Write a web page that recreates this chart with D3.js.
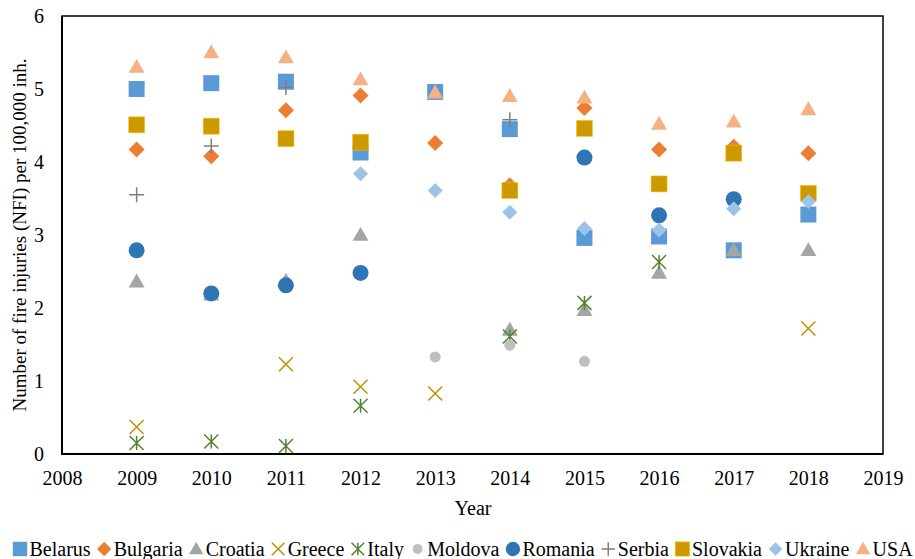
<!DOCTYPE html>
<html>
<head>
<meta charset="utf-8">
<script src="https://cdn.jsdelivr.net/npm/d3@7"></script>
<style>
  body { margin: 0; background: #fff; }
  text { font-family: "Liberation Serif", "Times New Roman", serif; fill: #000; }
</style>
</head>
<body>
<svg id="chart" width="915" height="559"></svg>
<script>
// values (NFI per 100,000 inh.), null = no point
const years    = [2009, 2010, 2011, 2012, 2013, 2014, 2015, 2016, 2017, 2018];
const belarus  = [5.00, 5.08, 5.10, 4.13, 4.96, 4.45, 2.96, 2.98, 2.79, 3.28];
const bulgaria = [4.17, 4.08, 4.71, 4.91, 4.26, 3.68, 4.74, 4.17, 4.21, 4.12];
const croatia  = [2.36, 2.18, 2.37, 3.00, null, 1.70, 1.97, 2.48, 2.79, 2.79];
const greece   = [0.37, null, 1.23, 0.92, 0.83, null, null, null, null, 1.72];
const italy    = [0.15, 0.17, 0.11, 0.66, null, 1.61, 2.07, 2.63, null, null];
const moldova  = [null, null, null, null, 1.33, 1.49, 1.27, null, null, null];
const romania  = [2.79, 2.20, 2.31, 2.48, null, null, 4.06, 3.27, 3.49, null];
const serbia   = [3.55, 4.22, 5.02, null, null, 4.58, null, null, null, null];
const slovakia = [4.51, 4.49, 4.32, 4.27, null, 3.61, 4.46, 3.70, 4.12, 3.57];
const ukraine  = [null, null, null, 3.84, 3.61, 3.31, 3.09, 3.07, 3.36, 3.46];
const usa      = [5.30, 5.50, 5.43, 5.13, 4.95, 4.90, 4.88, 4.52, 4.55, 4.72];

const xTicks = [2008, 2009, 2010, 2011, 2012, 2013, 2014, 2015, 2016, 2017, 2018, 2019];
const yTicks = [0, 1, 2, 3, 4, 5, 6];

const names = ["Belarus", "Bulgaria", "Croatia", "Greece", "Italy", "Moldova",
               "Romania", "Serbia", "Slovakia", "Ukraine", "USA"];
const seriesValues = [belarus, bulgaria, croatia, greece, italy, moldova,
                      romania, serbia, slovakia, ukraine, usa];

// marker look, one per series (same order)
const markers = [
  { shape: "square",   size: 16, color: "#5B9BD5" },
  { shape: "diamond",  size: 16, color: "#ED7D31" },
  { shape: "triangle", size: 16, color: "#A5A5A5" },
  { shape: "x",        size: 14, color: "#BF9000" },
  { shape: "star",     size: 14, color: "#548235" },
  { shape: "circle",   size: 11, color: "#BFBFBF" },
  { shape: "circle",   size: 16, color: "#2E75B6" },
  { shape: "plus",     size: 15, color: "#7F7F7F" },
  { shape: "square",   size: 16, color: "#CC9900", dotted: "#FFC000" },
  { shape: "diamond",  size: 15, color: "#9DC3E6" },
  { shape: "triangle", size: 16, color: "#F4B183" }
];

const width = 915, height = 559;
const margin = { top: 16, right: 32, bottom: 105, left: 62 };

const svg = d3.select("#chart");

const x = d3.scaleLinear()
  .domain([2008, 2019])
  .range([margin.left, width - margin.right]);

const y = d3.scaleLinear()
  .domain([0, 6])
  .range([height - margin.bottom, margin.top]);

function drawMarker(g, m, k) {
  const s = m.size * k;
  const r = s / 2;
  if (m.shape === "square") {
    const p = g.append("path")
      .attr("d", d3.symbol(d3.symbolSquare, s * s)())
      .attr("fill", m.color);
    if (m.dotted) p.attr("stroke", m.dotted).attr("stroke-width", 1).attr("stroke-dasharray", "1,1");
  } else if (m.shape === "diamond") {
    g.append("path")
      .attr("d", d3.symbol(d3.symbolSquare, s * s / 2)())
      .attr("transform", "rotate(45)")
      .attr("fill", m.color);
  } else if (m.shape === "triangle") {
    g.append("path")
      .attr("d", d3.symbol(d3.symbolTriangle, Math.sqrt(3) / 4 * s * s)())
      .attr("transform", `translate(0,${s * 0.07})`)
      .attr("fill", m.color);
  } else if (m.shape === "circle") {
    g.append("circle").attr("r", r).attr("fill", m.color);
  } else {
    let d = "";
    if (m.shape === "x" || m.shape === "star")
      d += `M${-r},${-r}L${r},${r}M${-r},${r}L${r},${-r}`;
    if (m.shape === "star") d += `M0,${-r}L0,${r}`;
    if (m.shape === "plus") d += `M${-r},0L${r},0M0,${-r}L0,${r}`;
    g.append("path")
      .attr("d", d)
      .attr("fill", "none")
      .attr("stroke", m.color)
      .attr("stroke-width", 1.5);
  }
}

// axes (labels only, no ticks)
const xAxis = d3.axisBottom(x).tickValues(xTicks).tickFormat(d3.format("d")).tickSize(0).tickPadding(17);
const yAxis = d3.axisLeft(y).tickValues(yTicks).tickFormat(d3.format("d")).tickSize(0).tickPadding(18);

svg.append("g")
  .attr("transform", `translate(0,${height - margin.bottom})`)
  .call(xAxis)
  .call(g => g.select(".domain").remove())
  .selectAll("text")
  .attr("font-size", 20)
  .attr("font-family", "Liberation Serif");

svg.append("g")
  .attr("transform", `translate(${margin.left},0)`)
  .call(yAxis)
  .call(g => g.select(".domain").remove())
  .selectAll("text")
  .attr("font-size", 20)
  .attr("font-family", "Liberation Serif");

// plot frame
svg.append("rect")
  .attr("x", x(2008))
  .attr("y", y(6))
  .attr("width", x(2019) - x(2008))
  .attr("height", y(0) - y(6))
  .attr("fill", "none")
  .attr("stroke", "#000")
  .attr("stroke-width", 1.5);

svg.append("path")
  .attr("d", `M${x(2008)},${y(6)}V${y(0)}H${x(2019)}`)
  .attr("fill", "none")
  .attr("stroke", "#000")
  .attr("stroke-width", 2);

// points
names.forEach((name, i) => {
  const pts = years.map((yr, j) => ({ yr, v: seriesValues[i][j] })).filter(d => d.v !== null);
  const grp = svg.append("g").attr("class", "series-" + name);
  pts.forEach(d => {
    const g = grp.append("g").attr("transform", `translate(${x(d.yr)},${y(d.v)})`);
    drawMarker(g, markers[i], 1);
  });
});

// axis titles
svg.append("text")
  .attr("x", 473)
  .attr("y", 515)
  .attr("text-anchor", "middle")
  .attr("font-size", 20)
  .text("Year");

svg.append("text")
  .attr("transform", `translate(26,${(y(0) + y(6)) / 2}) rotate(-90)`)
  .attr("text-anchor", "middle")
  .attr("font-size", 19)
  .text("Number of fire injuries (NFI) per 100,000 inh.");

// legend
const legend = svg.append("g");
let cx = 20;
names.forEach((name, i) => {
  const g = legend.append("g").attr("transform", `translate(${cx},549)`);
  drawMarker(g, markers[i], 0.9);
  const t = g.append("text")
    .attr("x", 9.5)
    .attr("y", 6.5)
    .attr("font-size", 20)
    .text(name);
  cx += 9.5 + t.node().getComputedTextLength() + 13.6;
});
</script>
</body>
</html>
